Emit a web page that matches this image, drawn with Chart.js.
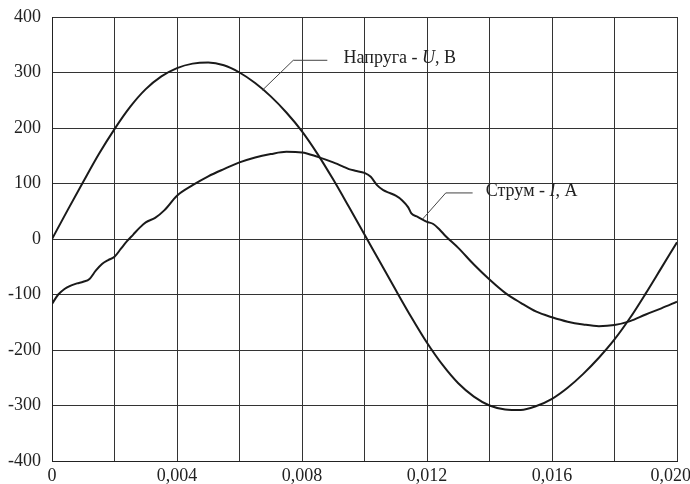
<!DOCTYPE html>
<html>
<head>
<meta charset="utf-8">
<script src="https://cdn.jsdelivr.net/npm/chart.js@4.4.1/dist/chart.umd.min.js"></script>
<style>
html, body { margin: 0; padding: 0; background: #fff; }
</style>
</head>
<body>
<canvas id="myChart" width="690" height="484"></canvas>
<script>
// час, с
const tU = [0, 0.0005, 0.001, 0.0015, 0.002, 0.0025, 0.003, 0.0035, 0.004, 0.0045, 0.005, 0.0055, 0.006, 0.0065, 0.007, 0.0075, 0.008, 0.0085, 0.009, 0.0095, 0.010, 0.0105, 0.011, 0.0115, 0.012, 0.0125, 0.013, 0.0135, 0.014, 0.0145, 0.015, 0.0155, 0.016, 0.0165, 0.017, 0.0175, 0.018, 0.0185, 0.019, 0.0195, 0.020];
// напруга U, В
const uValues = [0, 52, 103, 153, 198, 238, 270, 293, 308, 316, 318, 313, 300, 281, 257, 228, 194, 153, 107, 58, 8, -42, -92, -141, -187, -227, -260, -284, -300, -307, -308, -301, -288, -268, -243, -214, -181, -142, -98, -52, -6];

const tI = [0, 0.0002, 0.0004, 0.0006, 0.0008, 0.001, 0.0012, 0.0014, 0.0016, 0.0018, 0.002, 0.0022, 0.0024, 0.0026, 0.0028, 0.003, 0.0033, 0.0036, 0.004, 0.0045, 0.005, 0.0055, 0.006, 0.0065, 0.007, 0.0075, 0.008, 0.0085, 0.009, 0.0093, 0.0095, 0.0097, 0.010, 0.0102, 0.0104, 0.0106, 0.0108, 0.011, 0.0112, 0.0114, 0.0115, 0.0117, 0.012, 0.0122, 0.0124, 0.0126, 0.013, 0.0135, 0.014, 0.0145, 0.015, 0.0155, 0.016, 0.0165, 0.017, 0.0175, 0.018, 0.0185, 0.019, 0.0195, 0.020];
// струм I, А
const iValues = [-117, -100, -90, -84, -80, -77, -72, -57, -45, -38, -32, -18, -4, 8, 20, 30, 38, 52, 78, 97, 113, 126, 138, 147, 153, 157, 156, 148, 138, 131, 126, 123, 119, 112, 97, 88, 83, 78, 70, 57, 46, 40, 31, 27, 17, 5, -16, -46, -73, -97, -115, -131, -141, -149, -154, -157, -155, -148, -136, -125, -113];

const xTicks = [0, 0.002, 0.004, 0.006, 0.008, 0.010, 0.012, 0.014, 0.016, 0.018, 0.020];
const xTickLabels = ['0', '', '0,004', '', '0,008', '', '0,012', '', '0,016', '', '0,020\u2002\u2009'];
const yTicks = [-400, -300, -200, -100, 0, 100, 200, 300, 400];

// підписи кривих: точки виноски (t, значення) і текст
const curveLabels = [
    { leader: [[0.00673, 268], [0.00772, 322], [0.00881, 322]], at: [0.00933, 322], parts: [['Напруга - ', false], ['U', true], [', В', false]] },
    { leader: [[0.01186, 36], [0.0126, 83], [0.01346, 83]], at: [0.01388, 83], parts: [['Струм - ', false], ['I', true], [', А', false]] },
];

const FONT = '"Liberation Serif", "Times New Roman", serif';

const labelPlugin = {
    id: 'curveLabels',
    afterDatasetsDraw(chart) {
        const { ctx, scales: { x, y } } = chart;
        curveLabels.forEach(lb => {
            ctx.save();
            ctx.strokeStyle = '#444';
            ctx.lineWidth = 1;
            ctx.beginPath();
            lb.leader.forEach(([t, v], i) => {
                const px = x.getPixelForValue(t), py = y.getPixelForValue(v);
                if (i) ctx.lineTo(px, py); else ctx.moveTo(px, py);
            });
            ctx.stroke();
            let px = x.getPixelForValue(lb.at[0]);
            const py = y.getPixelForValue(lb.at[1]) - 2;
            ctx.fillStyle = '#222';
            ctx.textBaseline = 'middle';
            lb.parts.forEach(([txt, italic]) => {
                ctx.font = (italic ? 'italic ' : '') + '18px ' + FONT;
                ctx.fillText(txt, px, py);
                px += ctx.measureText(txt).width;
            });
            ctx.restore();
        });
    }
};

const ctx = document.getElementById('myChart').getContext('2d');
const chart = new Chart(ctx, {
    type: 'line',
    data: {
        datasets: [
            {
                label: 'U',
                data: tU.map((t, i) => ({ x: t, y: uValues[i] })),
                borderColor: '#1a1a1a',
                borderWidth: 2,
                pointRadius: 0,
                cubicInterpolationMode: 'monotone',
            },
            {
                label: 'I',
                data: tI.map((t, i) => ({ x: t, y: iValues[i] })),
                borderColor: '#1a1a1a',
                borderWidth: 2,
                pointRadius: 0,
                cubicInterpolationMode: 'monotone',
            },
        ],
    },
    options: {
        responsive: false,
        animation: false,
        layout: { padding: { top: 17, right: 13, left: 0, bottom: 0 } },
        plugins: { legend: { display: false }, tooltip: { enabled: false } },
        scales: {
            x: {
                type: 'linear',
                min: 0,
                max: 0.02,
                afterBuildTicks: (scale) => { scale.ticks = xTicks.map(v => ({ value: v })); },
                afterFit: (scale) => { scale.paddingLeft = 0; scale.paddingRight = 0; scale.height = 23; },
                grid: { color: '#333', lineWidth: 1, drawTicks: false },
                border: { color: '#222', width: 1 },
                ticks: {
                    autoSkip: false,
                    maxRotation: 0,
                    padding: 4,
                    color: '#222',
                    font: { family: FONT, size: 18 },
                    callback: (v, i) => xTickLabels[i],
                },
            },
            y: {
                min: -400,
                max: 400,
                afterBuildTicks: (scale) => { scale.ticks = yTicks.map(v => ({ value: v })); },
                afterFit: (scale) => { scale.width = 52; scale.paddingTop = 0; scale.paddingBottom = 0; },
                grid: { color: '#333', lineWidth: 1, drawTicks: false },
                border: { color: '#222', width: 1 },
                ticks: {
                    padding: 11,
                    color: '#222',
                    font: { family: FONT, size: 18 },
                    callback: (v) => String(v),
                },
            },
        },
    },
    plugins: [labelPlugin],
});
</script>
</body>
</html>
